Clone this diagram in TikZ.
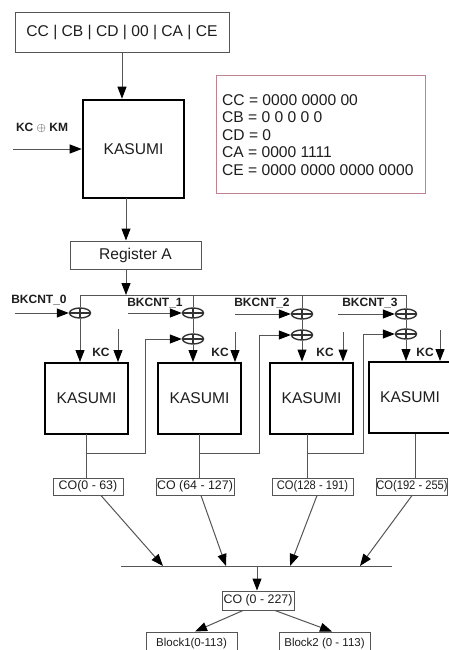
\documentclass[tikz,border=0pt]{standalone}
\usepackage{fontspec}
\setmainfont{Liberation Sans}
\usetikzlibrary{arrows.meta,shapes.geometric,calc}
\definecolor{lc}{RGB}{85,85,85}
\definecolor{infob}{RGB}{190,130,145}
\definecolor{tc}{RGB}{30,30,30}
\tikzset{
  conn/.style={draw=lc,line width=1pt},
  arr/.style={conn,-{Triangle[length=12pt,width=9pt,black]}},
  plainbox/.style={draw=lc,line width=1pt,inner sep=0pt,text=tc,font=\fontsize{15.6}{17.5}\selectfont},
  kbox/.style={draw=black,line width=2pt,inner sep=0pt,text=tc,minimum width=83pt,minimum height=71pt,font=\fontsize{15.6}{17.5}\selectfont},
  cobox/.style={draw=lc,line width=1pt,inner sep=0pt,minimum height=17pt,text=tc,font=\fontsize{12.4}{14}\selectfont},
  blbox/.style={draw=lc,line width=1pt,inner sep=0pt,minimum width=91pt,minimum height=24pt,text=tc,font=\fontsize{11.5}{13}\selectfont},
  lbl/.style={inner sep=0pt,text=tc,font=\fontsize{12}{14}\selectfont\bfseries},
  xor/.style={ellipse,draw=black!80,line width=1.4pt,minimum width=21pt,minimum height=10pt,inner sep=0pt,
    path picture={\draw[black!80,line width=1.2pt] (path picture bounding box.north) -- (path picture bounding box.south)
      (path picture bounding box.west) -- (path picture bounding box.east);}},
}
\begin{document}
\begin{tikzpicture}[x=1pt,y=-1pt]
\useasboundingbox (0,0) rectangle (449,650);
\fill[white] (0,0) rectangle (449,650);
\begin{scope}
\clip (0,0) rectangle (449,650);

% top part
\node[plainbox,minimum width=214pt,minimum height=40pt] (top) at (122,33) {CC | CB | CD | 00 | CA | CE};
\node[kbox,line width=2.6pt,minimum width=101pt,minimum height=98pt] (k0) at (133.5,149) {KASUMI};
\node[draw=infob,line width=1pt,minimum width=209pt,minimum height=117pt,inner sep=0pt] (info) at (320.5,134.5) {};
\node[anchor=west,inner sep=0pt,align=left,text=tc,font=\fontsize{15.6}{17.5}\selectfont] (infotext) at (222,135)
  {CC = 0000 0000 00\\CB = 0 0 0 0 0\\CD = 0\\CA = 0000 1111\\CE = 0000 0000 0000 0000};
\node[lbl] (kckm) at (42,128) {KC $\oplus$ KM};
\coordinate (kin) at (13,149);
\draw[arr] (kin) -- (k0.west |- kin);
\draw[arr] (top.south) -- (top.south |- k0.north);

\node[plainbox,minimum width=131pt,minimum height=28pt] (reg) at (135.5,255) {Register A};
\coordinate (k0out) at (126,198);
\draw[arr] (k0out) -- (k0out |- reg.north);
\coordinate (bus) at (126,295);
\coordinate (regout) at (126,269);
\draw[arr] (regout) -- (bus);

% bus
\coordinate (b0) at (80,295);
\coordinate (b1) at (193,295);
\coordinate (b2) at (302,295);
\coordinate (b3) at (406,295);
\draw[conn] (b0) -- (b3);

% xors
\node[xor] (x0a) at (80,313) {};
\node[xor] (x1a) at (193,313) {};
\node[xor] (x1b) at (193,339) {};
\node[xor] (x2a) at (302,314) {};
\node[xor] (x2b) at (302,335) {};
\node[xor] (x3a) at (406,314) {};
\node[xor] (x3b) at (406,334) {};

\draw[conn] (b0) -- (x0a.north);
\draw[conn] (b1) -- (x1a.north);
\draw[conn] (b2) -- (x2a.north);
\draw[conn] (b3) -- (x3a.north);
\draw[conn] (x1a.south) -- (x1b.north);
\draw[conn] (x2a.south) -- (x2b.north);
\draw[conn] (x3a.south) -- (x3b.north);

% BKCNT labels and arrows
\node[lbl] (bk0) at (39,300) {BKCNT\_0};
\node[lbl] (bk1) at (155,303) {BKCNT\_1};
\node[lbl] (bk2) at (262,303) {BKCNT\_2};
\node[lbl] (bk3) at (370,303) {BKCNT\_3};
\coordinate (bi0) at (15,313);
\coordinate (bi1) at (128,313);
\coordinate (bi2) at (235,314);
\coordinate (bi3) at (338,314);
\draw[arr] (bi0) -- (x0a.west);
\draw[arr] (bi1) -- (x1a.west);
\draw[arr] (bi2) -- (x2a.west);
\draw[arr] (bi3) -- (x3a.west);

% KASUMI row
\node[kbox] (kb0) at (86.5,398.5) {KASUMI};
\node[kbox] (kb1) at (199.5,398.5) {KASUMI};
\node[kbox] (kb2) at (311.5,398) {KASUMI};
\node[kbox] (kb3) at (410,397.5) {KASUMI};

\draw[arr] (x0a.south) -- (x0a.south |- kb0.north);
\draw[arr] (x1b.south) -- (x1b.south |- kb1.north);
\draw[arr] (x2b.south) -- (x2b.south |- kb2.north);
\draw[arr] (x3b.south) -- (x3b.south |- kb3.north);

% KC
\node[lbl] (kc0) at (101,352) {KC};
\node[lbl] (kc1) at (220,352) {KC};
\node[lbl] (kc2) at (325,352) {KC};
\node[lbl] (kc3) at (425,352) {KC};
\coordinate (kt0) at (118,329);
\coordinate (kt1) at (235,332);
\coordinate (kt2) at (343,332);
\coordinate (kt3) at (440,330);
\draw[arr] (kt0) -- (kt0 |- kb0.north);
\draw[arr] (kt1) -- (kt1 |- kb1.north);
\draw[arr] (kt2) -- (kt2 |- kb2.north);
\draw[arr] (kt3) -- (kt3 |- kb3.north);

% CO boxes
\node[cobox,minimum width=70pt] (co0) at (88,486.5) {CO(0 - 63)};
\node[cobox,minimum width=78pt] (co1) at (195,486.5) {CO (64 - 127)};
\node[cobox,minimum width=81pt] (co2) at (312.5,486.5) {\scalebox{0.9}[1]{CO(128 - 191)}};
\node[cobox,minimum width=70pt] (co3) at (412,486.5) {\scalebox{0.9}[1]{CO(192 - 255)}};

% outputs and feedbacks
\coordinate (o0) at (86,434);
\coordinate (o1) at (199,434);
\coordinate (o2) at (307,434);
\coordinate (o3) at (415,434);
\coordinate (f0) at (145,453);
\coordinate (f1) at (259,453);
\coordinate (f2) at (363,453);
\draw[conn] (o0) -- (o0 |- co0.north);
\draw[conn] (o1) -- (o1 |- co1.north);
\draw[conn] (o2) -- (o2 |- co2.north);
\draw[conn] (o3) -- (o3 |- co3.north);
\draw[arr] (o0 |- f0) -- (f0) |- (x1b.west);
\draw[arr] (o1 |- f1) -- (f1) |- (x2b.west);
\draw[arr] (o2 |- f2) -- (f2) |- (x3b.west);

% lower bus
\coordinate (lL) at (121,566);
\coordinate (lR) at (392,566);
\draw[conn] (lL) -- (lR);
\coordinate (e0) at (163,566);
\coordinate (e1) at (226,566);
\coordinate (e2) at (290,566);
\coordinate (e3) at (360,566);
\draw[arr] ([xshift=13pt]co0.south) -- (e0);
\draw[arr] ([xshift=6pt]co1.south) -- (e1);
\draw[arr] ([xshift=4.5pt]co2.south) -- (e2);
\draw[arr] (co3.south) -- (e3);

\node[cobox,minimum width=72pt,minimum height=19pt] (cof) at (258,600.5) {CO (0 - 227)};
\coordinate (lm) at (257,566);
\draw[arr] (lm) -- (lm |- cof.north);

\node[blbox] (bl1) at (191.5,644) {Block1(0-113)};
\node[blbox] (bl2) at (324.5,644) {Block2 (0 - 113)};
\draw[arr] ([xshift=-15pt]cof.south) -- ([xshift=3.5pt]bl1.north);
\draw[arr] ([xshift=17pt]cof.south) -- ([xshift=7.5pt]bl2.north);
\end{scope}
\end{tikzpicture}
\end{document}
